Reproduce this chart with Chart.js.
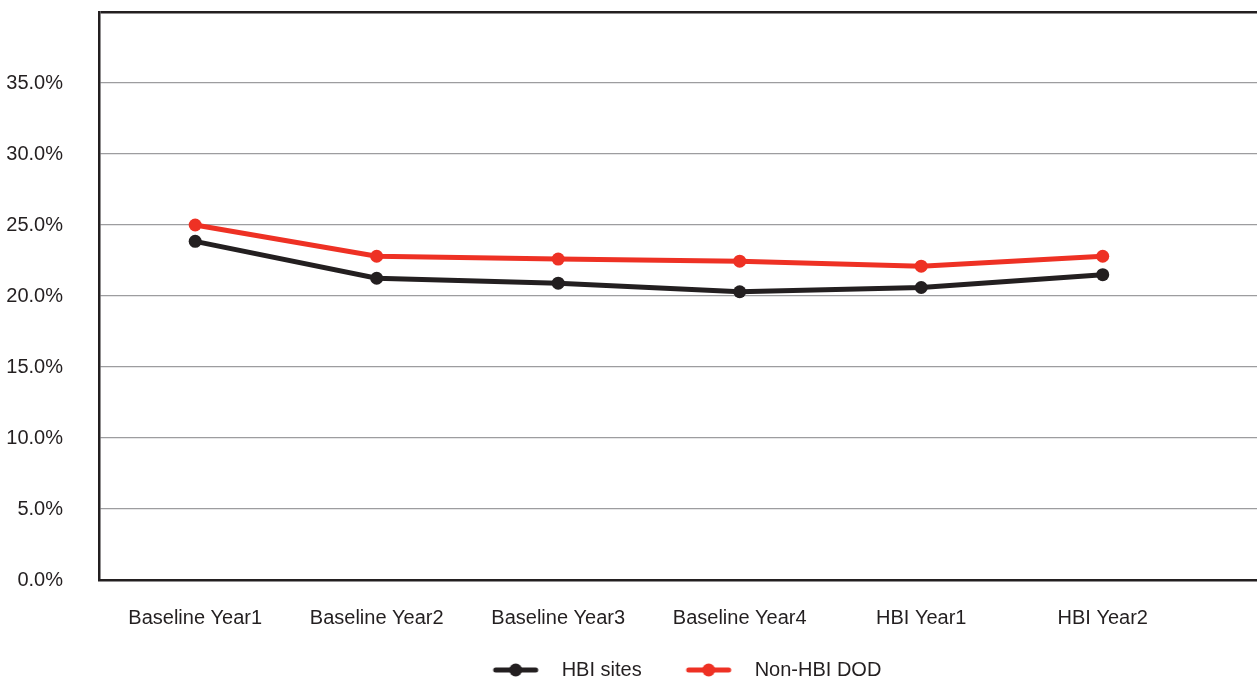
<!DOCTYPE html>
<html>
<head>
<meta charset="utf-8">
<script src="https://cdn.jsdelivr.net/npm/chart.js@4/dist/chart.umd.min.js"></script>
<style>
  html, body { margin: 0; padding: 0; background: #fff; }
  #wrap { width: 1257px; height: 682px; }
</style>
</head>
<body>
<div id="wrap"><canvas id="chartjs-0"></canvas></div>
<script>
// categories and values
var categories = ["Baseline Year1", "Baseline Year2", "Baseline Year3", "Baseline Year4", "HBI Year1", "HBI Year2"];
var hbiSites = [23.85, 21.25, 20.9, 20.3, 20.6, 21.5];
var nonHbiDod = [25.0, 22.8, 22.6, 22.45, 22.1, 22.8];
var yTicks = [0, 5, 10, 15, 20, 25, 30, 35, 40];

var black = "#231f20";
var red = "#ee3124";

function toPoints(arr) {
  var pts = [];
  for (let i = 0; i < arr.length; i++) {
    pts.push({ x: i, y: arr[i] });
  }
  return pts;
}

// legend marker: blank left, line with a dot, blank right
function legendIcon(color) {
  var c = document.createElement("canvas");
  c.width = 77;
  c.height = 14;
  var g = c.getContext("2d");
  g.strokeStyle = color;
  g.lineWidth = 5;
  g.lineCap = "round";
  g.beginPath();
  g.moveTo(21, 7);
  g.lineTo(61, 7);
  g.stroke();
  g.fillStyle = color;
  g.beginPath();
  g.arc(41, 7, 6.5, 0, Math.PI * 2);
  g.fill();
  return c;
}
var icons = [legendIcon(black), legendIcon(red)];

Chart.defaults.font.family = "'Liberation Sans', Arial, sans-serif";
Chart.defaults.color = black;

var ctx0 = document.getElementById("chartjs-0");
var myChart = new Chart(ctx0, {
  type: "line",
  data: {
    datasets: [
      {
        label: "HBI sites",
        data: toPoints(hbiSites),
        borderColor: black,
        backgroundColor: black,
        borderWidth: 5,
        pointRadius: 6.5,
        pointBackgroundColor: black,
        pointBorderWidth: 0,
        tension: 0
      },
      {
        label: "Non-HBI DOD",
        data: toPoints(nonHbiDod),
        borderColor: red,
        backgroundColor: red,
        borderWidth: 5,
        pointRadius: 6.5,
        pointBackgroundColor: red,
        pointBorderWidth: 0,
        tension: 0
      }
    ]
  },
  options: {
    responsive: true,
    maintainAspectRatio: false,
    animation: false,
    layout: { autoPadding: false, padding: { left: 0, right: 0, top: 12, bottom: 0 } },
    plugins: {
      tooltip: { enabled: false },
      legend: {
        position: "bottom",
        fullSize: false,
        maxHeight: 48,
        labels: {
          usePointStyle: true,
          pointStyleWidth: 77,
          font: { size: 20 },
          color: black,
          padding: 26,
          generateLabels: function (chart) {
            return chart.data.datasets.map(function (ds, i) {
              return {
                text: ds.label,
                pointStyle: icons[i],
                fillStyle: ds.borderColor,
                strokeStyle: ds.borderColor,
                fontColor: black,
                lineWidth: 0,
                hidden: false,
                datasetIndex: i
              };
            });
          }
        }
      }
    },
    scales: {
      x: {
        type: "linear",
        min: -0.53,
        max: 5.85,
        afterBuildTicks: function (axis) {
          axis.ticks = categories.map(function (c, i) { return { value: i }; });
        },
        afterFit: function (axis) { axis.height = 54; },
        grid: { display: false, drawTicks: false },
        border: { color: black, width: 2.5 },
        ticks: {
          padding: 26,
          font: { size: 20 },
          color: black,
          maxRotation: 0,
          autoSkip: false,
          callback: function (v) { return categories[v]; }
        }
      },
      y: {
        min: 0,
        max: 40,
        afterBuildTicks: function (axis) {
          axis.ticks = yTicks.map(function (v) { return { value: v }; });
        },
        afterFit: function (axis) { axis.width = 99; },
        // invisible tick marks push the labels away from the axis
        // (ticks.padding would also add space above the plot)
        grid: {
          drawTicks: true,
          tickLength: 36,
          tickColor: "rgba(0,0,0,0)",
          color: function (c) { return c.tick && c.tick.value === 40 ? black : "#9d9d9f"; },
          lineWidth: function (c) { return c.tick && c.tick.value === 40 ? 2.5 : 1.3; }
        },
        border: { color: black, width: 2.5 },
        ticks: {
          padding: 0,
          font: { size: 20 },
          color: black,
          callback: function (v) { return v === 40 ? "" : v.toFixed(1) + "%"; }
        }
      }
    }
  }
});
</script>
</body>
</html>
